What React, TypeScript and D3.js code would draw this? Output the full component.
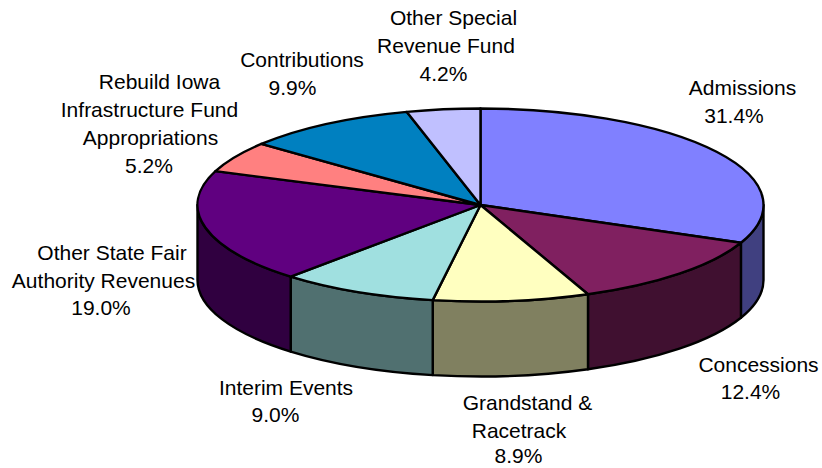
import React from "react";
import * as d3 from "d3";

const values = [31.4,12.4,8.9,9.0,19.0,5.2,9.9,4.2];
const topColors = ["#8080ff","#802060","#ffffc0","#a0e0e0","#600080","#ff8080","#0080c0","#c0c0ff"];
const sideColors = ["#404080","#401030","#808060","#507070","#300040","#804040","#004060","#606080"];
const labelLines = [
  "Admissions","31.4%",
  "Concessions","12.4%",
  "Grandstand &","Racetrack","8.9%",
  "Interim Events","9.0%",
  "Other State Fair","Authority Revenues","19.0%",
  "Rebuild Iowa","Infrastructure Fund","Appropriations","5.2%",
  "Contributions","9.9%",
  "Other Special","Revenue Fund","4.2%",
];
const labelX = [742.5,734,758.5,750.5,527.5,519,518.5,286,275.5,112,103.5,101,159.5,149.5,150.5,149,302,292.5,453.5,446,443.5];
const labelY = [88,116,365,392,403,431,456,388,415,253,281,308,82,110,138,166,59.5,88,17.5,45.5,73.5];

const cx = 480.5, cy = 205, rx = 283, ry = 96.5, depth = 75;

const pieGen = d3.pie<number>().sort(null).startAngle(0).endAngle(2 * Math.PI);
const arcs = pieGen(values);
const px = (a: number) => cx + rx * Math.sin(a);
const py = (a: number) => cy - ry * Math.cos(a);

function wall(a0: number, a1: number) {
  const s = Math.max(a0, Math.PI / 2), e = Math.min(a1, 1.5 * Math.PI);
  if (s >= e) return null;
  return `M${px(s)},${py(s)}A${rx},${ry} 0 0 1 ${px(e)},${py(e)}L${px(e)},${py(e) + depth}A${rx},${ry} 0 0 0 ${px(s)},${py(s) + depth}Z`;
}
function slice(a0: number, a1: number) {
  const large = a1 - a0 > Math.PI ? 1 : 0;
  return `M${cx},${cy}L${px(a0)},${py(a0)}A${rx},${ry} 0 ${large} 1 ${px(a1)},${py(a1)}Z`;
}

export default function App() {
  return (
    <svg width={822} height={468} style={{ position: "absolute", left: 0, top: 0, background: "#fff" }}>
      <g stroke="#000" strokeWidth={2.4} strokeLinejoin="round">
        {arcs.map((d, i) => {
          const w = wall(d.startAngle, d.endAngle);
          return w ? <path key={i} d={w} fill={sideColors[i]} /> : null;
        })}
        {arcs.map((d, i) => (
          <path key={i} d={slice(d.startAngle, d.endAngle)} fill={topColors[i]} />
        ))}
      </g>
      <g fontFamily="'Liberation Sans', Arial, sans-serif" fontSize={21} fill="#000" textAnchor="middle">
        {labelLines.map((t, i) => (
          <text key={i} x={labelX[i]} y={labelY[i] + 7}>{t}</text>
        ))}
      </g>
    </svg>
  );
}
